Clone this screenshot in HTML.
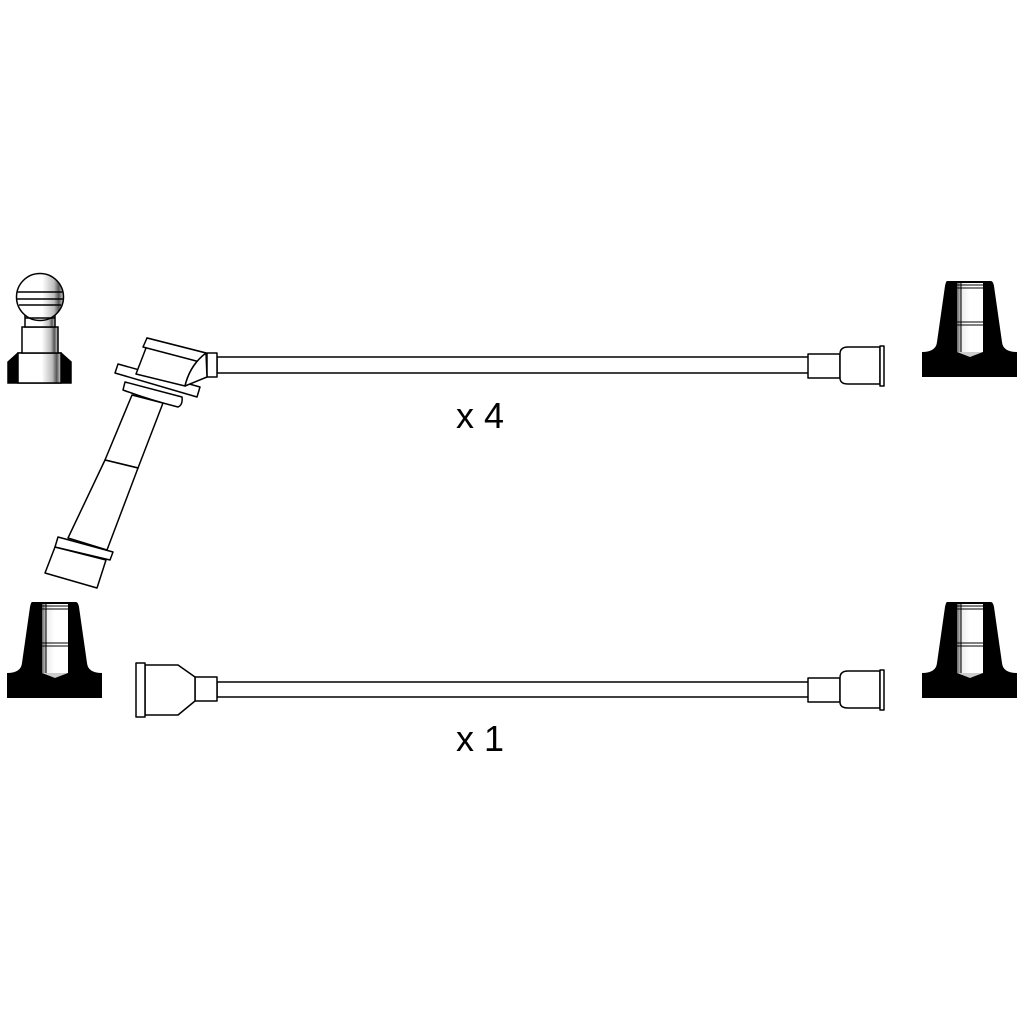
<!DOCTYPE html>
<html><head><style>
html,body{margin:0;padding:0;background:#fff;}
svg{display:block;}
text{font-family:"Liberation Sans",sans-serif;}
</style></head><body>
<svg width="1024" height="1024" viewBox="0 0 1024 1024" xmlns="http://www.w3.org/2000/svg">
<defs>
<linearGradient id="sh" x1="0" x2="1" y1="0" y2="0">
<stop offset="0" stop-color="#fff"/><stop offset="0.55" stop-color="#fff"/><stop offset="0.8" stop-color="#bbb"/><stop offset="0.9" stop-color="#555"/><stop offset="1" stop-color="#ddd"/>
</linearGradient>
<linearGradient id="sl" x1="0" x2="1" y1="0" y2="0">
<stop offset="0" stop-color="#666"/><stop offset="0.2" stop-color="#eee"/><stop offset="0.5" stop-color="#fff"/><stop offset="1" stop-color="#fff"/>
</linearGradient>
<g id="cap">
<path d="M-22,-1 Q-23,-1 -24,4 L-32,60 Q-33,70 -47,70 L-47,95 L48,95 L48,70 Q34,70 33,60 L25,4 Q24,-1 22,-1 Z" fill="#000"/>
<rect x="-12" y="1" width="26" height="69" fill="url(#sl)"/>
<path d="M-12,70 L1,75 L14,70 Z" fill="#ccc"/>
<line x1="-13" y1="3" x2="15" y2="3" stroke="#000" stroke-width="1"/>
<line x1="-13" y1="6" x2="15" y2="6" stroke="#000" stroke-width="1"/>
<line x1="-13" y1="40" x2="15" y2="40" stroke="#000" stroke-width="1"/>
<line x1="-13" y1="43" x2="15" y2="43" stroke="#000" stroke-width="1"/>
<line x1="-8" y1="1" x2="-8" y2="70" stroke="#000" stroke-width="1"/>
</g>
</defs>

<g stroke="#000" stroke-width="1.5">
<path d="M8,362 L18,353 L61,353 L71,362 L71,383 L8,383 Z" fill="#000"/>
<rect x="18" y="353" width="43" height="30" fill="url(#sh)"/>
<rect x="22" y="327" width="36" height="26" fill="url(#sh)"/>
<rect x="25" y="313" width="30" height="14" fill="url(#sh)"/>
<circle cx="40" cy="297" r="23.5" fill="url(#sh)"/>
<line x1="17" y1="292" x2="63" y2="292"/>
<line x1="17" y1="299" x2="63" y2="299"/>
<line x1="19" y1="305" x2="61" y2="305"/>
<line x1="25" y1="318" x2="55" y2="318"/>
</g>

<use href="#cap" x="969" y="282"/>
<use href="#cap" x="969" y="603"/>
<use href="#cap" x="54" y="603"/>

<g fill="#fff" stroke="#000" stroke-width="1.5" stroke-linejoin="round">
<rect x="217" y="357" width="593" height="16"/>
<rect x="808" y="354" width="32" height="24"/>
<path d="M840,354 Q840,347 848,347 L880,347 L880,384 L848,384 Q840,384 840,378 Z"/>
<rect x="880" y="346" width="4" height="40"/>
<rect x="207" y="353" width="10" height="24"/>
<path d="M105,460 L132,395 L163,403 L138,468 Z"/>
<path d="M68,538 L105,460 L138,468 L107,550 Z"/>
<path d="M45,573 L55,547 L106,560 L97,588 Z"/>
<path d="M58,537 L55,547 L110,560 L113,552 Z"/>
<path d="M125,382 L123,390 Q150,400 178,407 Q183,405 182,397 Z"/>
<path d="M118,364 L115,373 L197,397 L200,387 Z"/>
<path d="M146,348 L136,374 L185,386 Q190,365 206,353 L147,338 Z"/>
<path d="M147,338 L143,347 L200,362 Q203,358 206,353 Z"/>
<path d="M206,353 L207,377 L185,386 Q190,365 206,353 Z"/>
<rect x="217" y="682" width="593" height="15"/>
<rect x="195" y="677" width="22" height="24"/>
<path d="M145,665 L178,665 L195,677 L195,701 L178,715 L145,715 Z"/>
<rect x="136" y="663" width="9" height="54"/>
<rect x="808" y="678" width="32" height="24"/>
<path d="M840,678 Q840,671 848,671 L880,671 L880,708 L848,708 Q840,708 840,702 Z"/>
<rect x="880" y="670" width="4" height="40"/>
</g>

<text x="456" y="428" font-size="36" fill="#000">x 4</text>
<text x="456" y="751" font-size="36" fill="#000">x 1</text>
</svg>
</body></html>
